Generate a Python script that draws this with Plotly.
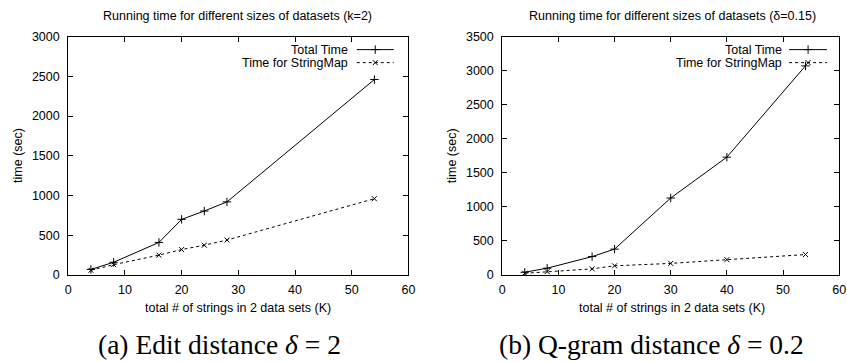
import plotly.graph_objects as go

# ---- data ----
x_left = [4, 8, 16, 20, 24, 28, 54]
total_left = [70, 160, 410, 700, 805, 920, 2460]
smap_left = [60, 130, 250, 320, 375, 440, 960]

x_right = [4, 8, 16, 20, 30, 40, 54]
total_right = [40, 100, 270, 380, 1130, 1730, 3070]
smap_right = [25, 50, 90, 135, 170, 225, 300]

title_left = "Running time for different sizes of datasets (k=2)"
title_right = "Running time for different sizes of datasets (δ=0.15)"
xlabel = "total # of strings in 2 data sets (K)"
ylabel = "time (sec)"
caption_left = "(a) Edit distance <i>δ</i> = 2"
caption_right = "(b) Q-gram distance <i>δ</i> = 0.2"
series_names = ["Total Time", "Time for StringMap"]

W, H = 847, 362
FONT = "Liberation Sans"
FS = 12.5

# target layout geometry (pixels in the final picture)
yb, yt = 274.3, 36.0
L = dict(x0=66.0, x1=406.7)
R = dict(x0=500.7, x1=842.0)

# empirical correction from target picture pixels to figure pixels
def cx(x):
    return (x - 0.68) / 0.9897

def cy(y):
    return (y - 6.4) / 0.961

def px(x):
    return cx(x) / W

def py(y):
    return 1 - cy(y) / H

fig = go.Figure()

line_total = dict(color="black", width=1)
line_smap = dict(color="black", width=1, dash="3px,3px")
mk_total = dict(symbol="cross-thin", size=6, line=dict(color="black", width=1), color="black")
mk_smap = dict(symbol="x-thin", size=5, line=dict(color="black", width=1), color="black")

for xs, tot, sm, xa, ya in [(x_left, total_left, smap_left, "x", "y"),
                            (x_right, total_right, smap_right, "x2", "y2")]:
    fig.add_trace(go.Scatter(x=xs, y=tot, mode="lines+markers", line=line_total,
                             marker=mk_total, xaxis=xa, yaxis=ya, showlegend=False,
                             name=series_names[0]))
    fig.add_trace(go.Scatter(x=xs, y=sm, mode="lines+markers", line=line_smap,
                             marker=mk_smap, xaxis=xa, yaxis=ya, showlegend=False,
                             name=series_names[1]))

axis_common = dict(
    showgrid=False, zeroline=False, showline=True, linecolor="black", linewidth=1,
    mirror="allticks", ticks="inside", ticklen=5, tickcolor="black", tickwidth=1,
    tickfont=dict(family=FONT, size=FS, color="black"),
)

fig.update_layout(
    width=W, height=H, margin=dict(l=0, r=0, t=0, b=0),
    paper_bgcolor="white", plot_bgcolor="rgba(0,0,0,0)",
    xaxis=dict(domain=[px(L["x0"]), px(L["x1"])], range=[0, 60], dtick=10, anchor="y",
               ticklabelstandoff=3, **axis_common),
    yaxis=dict(domain=[py(yb), py(yt)], range=[0, 3000], dtick=500, anchor="x",
               ticklabelstandoff=5, **axis_common),
    xaxis2=dict(domain=[px(R["x0"]), min(0.999, px(R["x1"]))], range=[0, 60], dtick=10,
                anchor="y2", ticklabelstandoff=3, **axis_common),
    yaxis2=dict(domain=[py(yb), py(yt)], range=[0, 3500], dtick=500, anchor="x2",
                ticklabelstandoff=5, **axis_common),
    xaxis3=dict(domain=[0, 1], range=[0, 1], visible=False, fixedrange=True, anchor="y3"),
    yaxis3=dict(domain=[0, 1], range=[0, 1], visible=False, fixedrange=True, anchor="x3"),
    showlegend=False,
)

ann = []
def text(x, y, s, size, xanchor="center", family=FONT, angle=0):
    ann.append(dict(x=px(x), y=py(y), xref="paper", yref="paper", text=s, showarrow=False,
                    xanchor=xanchor, yanchor="middle", textangle=angle,
                    font=dict(family=family, size=size, color="black")))

# titles
text(236, 15, title_left, FS)
text(671, 15, title_right, FS)
# axis titles
text(236, 307, xlabel, FS)
text(671, 307, xlabel, FS)
text(15, 155, ylabel, FS, angle=-90)
text(450, 155, ylabel, FS, angle=-90)
# captions
text(218, 343.5, caption_left, 27.5, family="Liberation Serif")
text(650, 343.5, caption_right, 27.5, family="Liberation Serif")

# legends (custom, symbol to the right of text like gnuplot)
rows = [49, 62]
for (tx, lx0, lx1) in [(348, 355, 392), (783, 788, 826)]:
    for i, (nm, ln, mk) in enumerate([(series_names[0], line_total, mk_total),
                                      (series_names[1], line_smap, mk_smap)]):
        text(tx, rows[i], nm, FS, xanchor="right")
        fig.add_trace(go.Scatter(x=[px(lx0), px(lx1)], y=[py(rows[i])] * 2, mode="lines",
                                 line=ln, xaxis="x3", yaxis="y3", showlegend=False,
                                 hoverinfo="skip"))
        fig.add_trace(go.Scatter(x=[px((lx0 + lx1) / 2)], y=[py(rows[i])], mode="markers",
                                 marker=mk, xaxis="x3", yaxis="y3", showlegend=False,
                                 hoverinfo="skip"))

fig.update_layout(annotations=ann)
fig.write_html("out.html", config={"displayModeBar": False},
               post_script="document.body.style.margin='0';document.body.style.overflow='hidden';")
